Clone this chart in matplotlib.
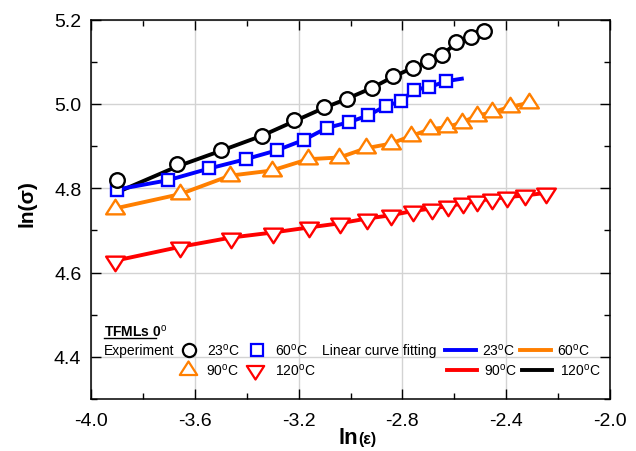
import numpy as np
import matplotlib
matplotlib.use("Agg")
import matplotlib.pyplot as plt
from matplotlib.path import Path
from matplotlib.lines import Line2D

plt.rcParams["font.family"] = ["Liberation Sans", "DejaVu Sans"]
plt.rcParams["mathtext.fontset"] = "custom"
plt.rcParams["mathtext.rm"] = "Liberation Sans"
plt.rcParams["mathtext.it"] = "Liberation Sans:italic"
plt.rcParams["mathtext.bf"] = "Liberation Sans:bold"

# ln(strain) / ln(stress) for TFMLs 0 deg at four temperatures
eps_23 = [-3.901, -3.667, -3.499, -3.340, -3.217, -3.101, -3.015, -2.918, -2.837,
          -2.760, -2.700, -2.649, -2.595, -2.534, -2.486]
sig_23 = [4.819, 4.857, 4.891, 4.925, 4.961, 4.993, 5.012, 5.038, 5.067,
          5.086, 5.101, 5.116, 5.147, 5.160, 5.173]

eps_60 = [-3.900, -3.704, -3.544, -3.404, -3.284, -3.179, -3.092, -3.005, -2.931,
          -2.863, -2.805, -2.755, -2.696, -2.632]
sig_60 = [4.797, 4.819, 4.847, 4.869, 4.890, 4.915, 4.943, 4.957, 4.973,
          4.996, 5.006, 5.034, 5.040, 5.054]

eps_90 = [-3.908, -3.657, -3.464, -3.304, -3.163, -3.043, -2.940, -2.844, -2.767,
          -2.694, -2.629, -2.571, -2.514, -2.456, -2.385, -2.311]
sig_90 = [4.752, 4.786, 4.830, 4.842, 4.869, 4.873, 4.895, 4.906, 4.924,
          4.940, 4.945, 4.956, 4.972, 4.980, 4.993, 5.003]

eps_120 = [-3.908, -3.657, -3.461, -3.300, -3.160, -3.040, -2.938, -2.844, -2.760,
           -2.687, -2.623, -2.565, -2.514, -2.456, -2.396, -2.328, -2.247]
sig_120 = [4.628, 4.661, 4.683, 4.695, 4.707, 4.717, 4.728, 4.736, 4.746,
           4.752, 4.758, 4.764, 4.770, 4.775, 4.779, 4.783, 4.789]

# linear curve fitting evaluated at the strain points
fit_x_23 = eps_23
fit_23 = [4.790, 4.852, 4.889, 4.925, 4.959, 4.991, 5.012, 5.038, 5.064,
          5.086, 5.101, 5.116, 5.143, 5.158, 5.170]
fit_x_60 = eps_60 + [-2.571]
fit_60 = sig_60 + [5.060]
fit_x_90 = eps_90
fit_90 = sig_90
fit_x_120 = eps_120
fit_120 = sig_120

W, H = 636, 452
fig = plt.figure(figsize=(W / 100, H / 100), dpi=100)
ax = fig.add_axes([91 / W, 1 - 400 / H, (610 - 91) / W, (400 - 20.7) / H])

# triangles centred on their centroid
tri_up = Path([(0, 0.52), (-0.5, -0.26), (0.5, -0.26), (0, 0.52)],
              [Path.MOVETO, Path.LINETO, Path.LINETO, Path.CLOSEPOLY])
tri_dn = Path([(0, -0.52), (-0.5, 0.26), (0.5, 0.26), (0, -0.52)],
              [Path.MOVETO, Path.LINETO, Path.LINETO, Path.CLOSEPOLY])

BLUE, ORANGE, RED, BLACK = "#0000ff", "#ff7f00", "#ff0000", "#000000"
lw = 2.8
ax.plot(fit_x_23, fit_23, color=BLACK, lw=lw, zorder=3)
ax.plot(fit_x_60, fit_60, color=BLUE, lw=lw, zorder=3)
ax.plot(fit_x_90, fit_90, color=ORANGE, lw=lw, zorder=3)
ax.plot(fit_x_120, fit_120, color=RED, lw=lw, zorder=3)

mk = dict(ls="none", mfc="white", mew=1.7, zorder=4)
ax.plot(eps_120, sig_120, marker=tri_dn, ms=14, mec=RED, **mk)
ax.plot(eps_90, sig_90, marker=tri_up, ms=14, mec=ORANGE, **mk)
ax.plot(eps_60, sig_60, marker="s", ms=9, mec=BLUE, **mk)
ax.plot(eps_23, sig_23, marker="o", ms=10.5, mec=BLACK, **mk)

ax.set_xlim(-4.0, -2.0)
ax.set_ylim(4.3, 5.2)
ax.set_xticks(np.arange(-4.0, -1.99, 0.4))
ax.set_xticks(np.arange(-4.0, -1.99, 0.2), minor=True)
ax.set_yticks([4.4, 4.6, 4.8, 5.0, 5.2])
ax.set_yticks(np.arange(4.3, 5.21, 0.1), minor=True)
ax.xaxis.set_major_formatter(matplotlib.ticker.FormatStrFormatter("%.1f"))
ax.yaxis.set_major_formatter(matplotlib.ticker.FormatStrFormatter("%.1f"))
ax.grid(True, which="major", color="#d3d3d3", lw=1.0, zorder=0)
ax.set_axisbelow(True)
ax.tick_params(which="both", direction="in", top=True, right=True, width=1.0,
               labelsize=14)
ax.tick_params(axis="x", pad=9)
ax.tick_params(axis="y", pad=7)
ax.tick_params(which="major", length=7)
ax.tick_params(which="minor", length=4)
for s in ax.spines.values():
    s.set_linewidth(1.1)

# axis labels
fig.text(27 / W, 1 - 204 / H, "ln(σ)", rotation=90, ha="center", va="center",
         fontsize=15, fontweight="bold")
fig.text(358 / W, 1 - 444 / H, "ln", ha="right", va="baseline",
         fontsize=16, fontweight="bold")
fig.text(358 / W, 1 - 444 / H, "(ε)", ha="left", va="baseline",
         fontsize=11.5, fontweight="bold")


def P(x, y):
    return x / W, 1 - y / H


deg = r"$^{\mathrm{o}}$"
fs = 10
fig.text(*P(104, 336.5), "TFMLs 0" + deg, fontsize=fs, fontweight="bold", va="baseline")
fig.add_artist(Line2D([104 / W, 156 / W], [1 - 338.5 / H] * 2, color="black", lw=1.0))

r1 = 355.5
fig.text(*P(104, r1), "Experiment", fontsize=fs, va="baseline")
keys = [(189, 350.7, "o", 9.5, BLACK, "23" + deg + "C", 207),
        (257, 350.7, "s", 8.2, BLUE, "60" + deg + "C", 275),
        (188, 371, tri_up, 13, ORANGE, "90" + deg + "C", 206.5),
        (255, 371, tri_dn, 13, RED, "120" + deg + "C", 275)]
for x, y, m, s, c, lab, tx in keys:
    fig.add_artist(Line2D([x / W], [1 - y / H], marker=m, ms=s, mec=c, mfc="white",
                          mew=1.6, ls="none"))
    fig.text(*P(tx, y + 5), lab, fontsize=fs, va="baseline")

fig.text(*P(321.5, r1), "Linear curve fitting", fontsize=fs, va="baseline")
fits = [(445, 476, 350.7, BLUE, "23" + deg + "C", 482.5),
        (520, 551, 350.7, ORANGE, "60" + deg + "C", 557),
        (446.5, 477, 371, RED, "90" + deg + "C", 484),
        (521.5, 552, 371, BLACK, "120" + deg + "C", 560.5)]
for x0, x1, y, c, lab, tx in fits:
    fig.add_artist(Line2D([x0 / W, x1 / W], [1 - y / H] * 2, color=c, lw=2.8))
    fig.text(*P(tx, y + 5), lab, fontsize=fs, va="baseline")

fig.savefig("out.png", dpi=100)
